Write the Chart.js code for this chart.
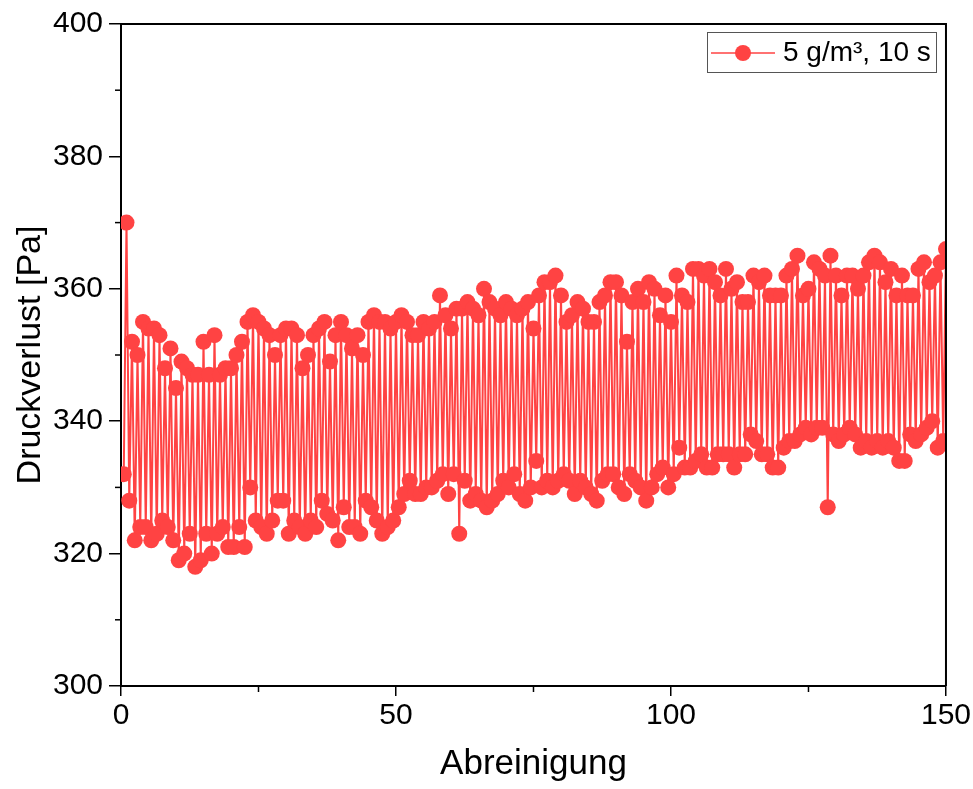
<!DOCTYPE html>
<html>
<head>
<meta charset="utf-8">
<script src="https://cdn.jsdelivr.net/npm/chart.js@4"></script>
<style>
  html, body { margin: 0; padding: 0; background: #fff; }
  #wrap { width: 973px; height: 789px; }
</style>
</head>
<body>
<div id="wrap"><canvas id="myChart" width="973" height="789"></canvas></div>
<script>
// Druckverlust vor der Abreinigung (Spitzen), Abreinigung 1..150
const hochWerte = [
  370, 352, 350, 355, 354, 354, 353, 348, 351, 345,
  349, 348, 347, 347, 352, 347, 353, 347, 348, 348,
  350, 352, 355, 356, 355, 354, 353, 350, 353, 354,
  354, 353, 348, 350, 353, 354, 355, 349, 353, 355,
  353, 351, 353, 350, 355, 356, 355, 355, 354, 355,
  356, 355, 353, 353, 355, 354, 355, 359, 356, 354,
  357, 357, 358, 357, 356, 360, 358, 357, 356, 358,
  357, 356, 357, 358, 354, 359, 361, 361, 362, 359,
  355, 356, 358, 357, 355, 355, 358, 359, 361, 361,
  359, 352, 358, 360, 358, 361, 360, 356, 359, 355,
  362, 359, 358, 363, 363, 362, 363, 361, 359, 363,
  360, 361, 358, 358, 362, 361, 362, 359, 359, 359,
  362, 363, 365, 359, 360, 364, 363, 362, 365, 362,
  359, 362, 362, 360, 362, 364, 365, 364, 361, 363,
  359, 362, 359, 359, 363, 364, 361, 362, 364, 366
];

// Druckverlust nach der Abreinigung (Minima), jeweils eine halbe Abreinigung vorher
const tiefWerte = [
  332, 328, 322, 324, 324, 322, 323, 325, 324, 322,
  319, 320, 323, 318, 319, 323, 320, 323, 324, 321,
  321, 324, 321, 330, 325, 324, 323, 325, 328, 328,
  323, 325, 324, 323, 325, 324, 328, 326, 325, 322,
  327, 324, 324, 323, 328, 327, 325, 323, 324, 325,
  327, 329, 331, 329, 329, 330, 330, 331, 332, 329,
  332, 323, 331, 328, 329, 328, 327, 328, 329, 331,
  330, 332, 329, 328, 330, 334, 330, 331, 330, 331,
  332, 331, 329, 331, 330, 329, 328, 331, 332, 332,
  330, 329, 332, 331, 330, 328, 330, 332, 333, 330,
  332, 336, 333, 333, 334, 335, 333, 333, 335, 335,
  335, 333, 335, 335, 338, 337, 335, 335, 333, 333,
  336, 337, 337, 338, 339, 338, 339, 339, 327, 338,
  337, 338, 339, 338, 336, 337, 336, 337, 336, 337,
  336, 334, 334, 338, 337, 338, 339, 340, 336, 337
];

const xTicks = [0, 50, 100, 150];
const yTicks = [300, 320, 340, 360, 380, 400];
const serienName = '5 g/m³, 10 s';
const rot = '#ff4343';

// Punkte abwechselnd: Minimum bei n-0.5, Spitze bei n
const punkte = [];
hochWerte.forEach((h, i) => {
  punkte.push({ x: i + 0.5, y: tiefWerte[i] });
  punkte.push({ x: i + 1, y: h });
});

const FONT = "'Liberation Sans', Arial, sans-serif";

// Rahmen, Nebenstriche und Legende
const extras = {
  id: 'extras',
  afterDraw(chart) {
    const { ctx, chartArea: a, scales } = chart;
    ctx.save();
    ctx.strokeStyle = '#000';
    ctx.lineWidth = 2;
    ctx.beginPath();
    ctx.moveTo(a.left, a.top);
    ctx.lineTo(a.right, a.top);
    ctx.lineTo(a.right, a.bottom);
    ctx.stroke();

    ctx.lineWidth = 1.5;
    [310, 330, 350, 370, 390].forEach(v => {
      const py = scales.y.getPixelForValue(v);
      ctx.beginPath();
      ctx.moveTo(a.left - 6, py);
      ctx.lineTo(a.left, py);
      ctx.stroke();
    });
    [25, 75, 125].forEach(v => {
      const px = scales.x.getPixelForValue(v);
      ctx.beginPath();
      ctx.moveTo(px, a.bottom);
      ctx.lineTo(px, a.bottom + 6);
      ctx.stroke();
    });

    // Legende
    const bx = 707, by = 32, bw = 229, bh = 40;
    ctx.fillStyle = '#fff';
    ctx.fillRect(bx, by, bw, bh);
    ctx.strokeStyle = '#555';
    ctx.lineWidth = 1;
    ctx.strokeRect(bx + 0.5, by + 0.5, bw, bh);
    const my = by + bh / 2 + 1;
    ctx.strokeStyle = rot;
    ctx.lineWidth = 1.5;
    ctx.beginPath();
    ctx.moveTo(bx + 4, my);
    ctx.lineTo(bx + 68, my);
    ctx.stroke();
    ctx.fillStyle = rot;
    ctx.beginPath();
    ctx.arc(bx + 36, my, 8, 0, Math.PI * 2);
    ctx.fill();
    ctx.fillStyle = '#000';
    ctx.font = '28px ' + FONT;
    ctx.textBaseline = 'middle';
    ctx.textAlign = 'left';
    ctx.fillText(serienName, bx + 76, my);
    ctx.restore();
  }
};

const ctx = document.getElementById('myChart').getContext('2d');
new Chart(ctx, {
  type: 'line',
  data: {
    datasets: [{
      label: serienName,
      data: punkte,
      borderColor: rot,
      backgroundColor: rot,
      borderWidth: 2,
      pointRadius: 8,
      pointBorderWidth: 0,
      pointHoverRadius: 8,
      tension: 0
    }]
  },
  options: {
    responsive: false,
    animation: false,
    layout: { padding: { top: 22, right: 27, left: 0, bottom: 0 } },
    plugins: { legend: { display: false }, tooltip: { enabled: false } },
    scales: {
      x: {
        type: 'linear',
        min: 0,
        max: 150,
        afterBuildTicks: s => { s.ticks = xTicks.map(v => ({ value: v })); },
        afterFit: s => { s.height = 103; },
        ticks: { color: '#000', font: { size: 30, family: FONT }, padding: 2, maxRotation: 0 },
        grid: { drawOnChartArea: false, drawTicks: true, tickLength: 10, color: '#000', lineWidth: 1.5 },
        border: { color: '#000', width: 2 },
        title: { display: true, text: 'Abreinigung', color: '#000', font: { size: 35, family: FONT }, padding: { top: 12 } }
      },
      y: {
        min: 300,
        max: 400,
        afterBuildTicks: s => { s.ticks = yTicks.map(v => ({ value: v })); },
        afterFit: s => { s.width = 121; },
        ticks: { color: '#000', font: { size: 30, family: FONT }, padding: 6 },
        grid: { drawOnChartArea: false, drawTicks: true, tickLength: 12, color: '#000', lineWidth: 1.5 },
        border: { color: '#000', width: 2 },
        title: { display: true, text: 'Druckverlust [Pa]', color: '#000', font: { size: 34, family: FONT }, padding: { top: 10, bottom: 4 } }
      }
    }
  },
  plugins: [extras]
});
</script>
</body>
</html>
